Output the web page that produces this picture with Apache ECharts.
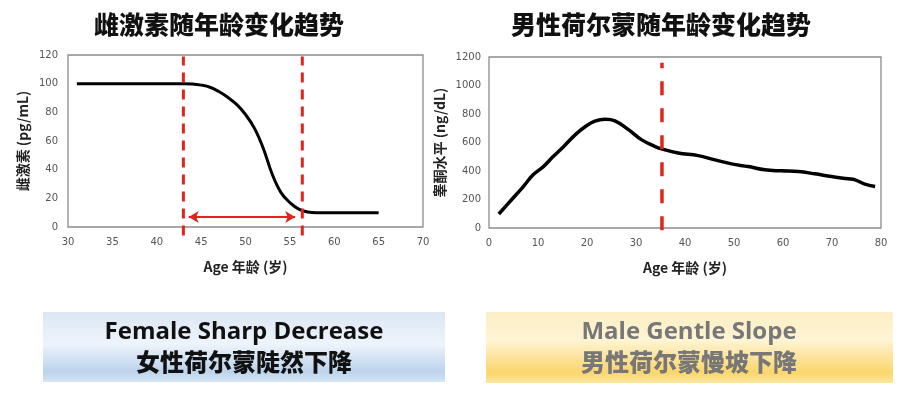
<!DOCTYPE html>
<html>
<head>
<meta charset="utf-8">
<style>
  html, body { margin: 0; padding: 0; background: #fff; }
  #main { width: 909px; height: 397px; }
</style>
<script src="https://cdn.jsdelivr.net/npm/echarts@6/dist/echarts.min.js"></script>
</head>
<body>
<div id="main"></div>
<script>
// 雌激素曲线
var femaleAge = [31, 35, 40, 43, 44, 45, 46, 47, 48, 49, 50, 51, 52, 53, 54, 55, 56, 57, 58, 60, 65];
var femaleVal = [100, 100, 100, 100, 99.8, 99, 97.5, 94.5, 90.5, 85.5, 78.5, 69, 55, 37, 24, 17, 12.5, 10.5, 10, 10, 10];
var femaleMarks = [43, 56.4];
var femaleArrow = [43.6, 55.6, 7];

// 睾酮曲线
var maleAge = [2, 4.6, 7, 9, 11.1, 13.1, 15.2, 17.9, 19.9, 21.6, 23.7, 25.7, 28.4, 31.1, 33.8, 35.2, 38.6, 42.7, 46.1, 49.5, 52.9, 56.3, 59.7, 63.1, 66.5, 69.9, 73.3, 74.7, 76.7, 78.8];
var maleVal = [98, 198, 291, 373, 431, 501, 571, 664, 718, 750, 763, 752, 692, 620, 573, 555, 526, 508, 478, 450, 431, 408, 401, 396, 380, 361, 345, 338, 308, 291];
var maleMark = 35.3;

function zip(a, b) {
  var out = [];
  for (var i = 0; i < a.length; i++) out.push([a[i], b[i]]);
  return out;
}

var myChart = echarts.init(document.getElementById("main"));

var labelStyle = { color: "#555", fontSize: 10, fontFamily: "DejaVu Sans" };
var nameStyle = { color: "#222", fontSize: 14, fontWeight: "bold", fontFamily: "Noto Sans CJK SC" };
var plain = function (v) { return String(v); };

function boxGradient(stops) {
  return new echarts.graphic.LinearGradient(0, 0, 0, 1, stops);
}

var option = {
  backgroundColor: "#fff",
  animation: false,
  title: [
    {
      text: "雌激素随年龄变化趋势",
      left: 214, top: 7, textAlign: "center",
      textStyle: { fontSize: 25, fontWeight: 900, color: "#111", fontFamily: "Noto Sans CJK SC" }
    },
    {
      text: "男性荷尔蒙随年龄变化趋势",
      left: 656, top: 7, textAlign: "center",
      textStyle: { fontSize: 25, fontWeight: 900, color: "#111", fontFamily: "Noto Sans CJK SC" }
    }
  ],
  grid: [
    { left: 68, top: 55, width: 355, height: 172, show: true, borderColor: "#8c8c8c", borderWidth: 1.3 },
    { left: 489, top: 57, width: 392, height: 171, show: true, borderColor: "#8c8c8c", borderWidth: 1.3 }
  ],
  xAxis: [
    {
      gridIndex: 0, type: "value", min: 30, max: 70, interval: 5,
      name: "Age 年龄 (岁)", nameLocation: "middle", nameGap: 33, nameTextStyle: nameStyle,
      axisLine: { show: false }, axisTick: { show: false }, splitLine: { show: false },
      axisLabel: Object.assign({ margin: 10, formatter: plain }, labelStyle)
    },
    {
      gridIndex: 1, type: "value", min: 0, max: 80, interval: 10,
      name: "Age 年龄 (岁)", nameLocation: "middle", nameGap: 33, nameTextStyle: nameStyle,
      axisLine: { show: false }, axisTick: { show: false }, splitLine: { show: false },
      axisLabel: Object.assign({ margin: 10, formatter: plain }, labelStyle)
    }
  ],
  yAxis: [
    {
      gridIndex: 0, type: "value", min: 0, max: 120, interval: 20,
      name: "雌激素 (pg/mL)", nameLocation: "middle", nameGap: 38, nameTextStyle: nameStyle,
      axisLine: { show: false }, axisTick: { show: false }, splitLine: { show: false },
      axisLabel: Object.assign({ margin: 10, formatter: plain }, labelStyle)
    },
    {
      gridIndex: 1, type: "value", min: 0, max: 1200, interval: 200,
      name: "睾酮水平 (ng/dL)", nameLocation: "middle", nameGap: 42, nameTextStyle: nameStyle,
      axisLine: { show: false }, axisTick: { show: false }, splitLine: { show: false },
      axisLabel: Object.assign({ margin: 8, formatter: plain }, labelStyle)
    }
  ],
  series: [
    {
      type: "line", xAxisIndex: 0, yAxisIndex: 0,
      data: zip(femaleAge, femaleVal), smooth: 0.4, symbol: "none",
      lineStyle: { color: "#000", width: 3 },
      markLine: {
        silent: true, symbol: ["arrow", "arrow"], symbolSize: [9, 10],
        label: { show: false },
        lineStyle: { color: "#e0251f", width: 2, type: "solid" },
        data: [[{ coord: [femaleArrow[0], femaleArrow[2]] }, { coord: [femaleArrow[1], femaleArrow[2]] }]]
      }
    },
    {
      type: "line", xAxisIndex: 0, yAxisIndex: 0, clip: false, symbol: "none",
      data: [[femaleMarks[0], -6], [femaleMarks[0], 119]],
      lineStyle: { color: "#e0251f", width: 3, type: [10, 7] }
    },
    {
      type: "line", xAxisIndex: 0, yAxisIndex: 0, clip: false, symbol: "none",
      data: [[femaleMarks[1], -6], [femaleMarks[1], 119]],
      lineStyle: { color: "#e0251f", width: 3, type: [10, 7] }
    },
    {
      type: "line", xAxisIndex: 1, yAxisIndex: 1,
      data: zip(maleAge, maleVal), smooth: 0.4, symbol: "none",
      lineStyle: { color: "#000", width: 3.5 }
    },
    {
      type: "line", xAxisIndex: 1, yAxisIndex: 1, clip: false, symbol: "none",
      data: [[maleMark, -15], [maleMark, 1160]],
      lineStyle: { color: "#e0251f", width: 3.5, type: [14, 13] }
    }
  ],
  graphic: [
    {
      type: "rect", shape: { x: 43, y: 312, width: 402, height: 70 },
      style: { fill: boxGradient([
        { offset: 0, color: "#dbe6f3" },
        { offset: 0.45, color: "#eef4fb" },
        { offset: 0.85, color: "#bcd3ed" },
        { offset: 1, color: "#d6e5f5" }
      ]) }
    },
    {
      type: "text", x: 244, y: 332,
      style: { text: "Female Sharp Decrease", fill: "#111", font: "bold 24px 'Open Sans'", textAlign: "center", textVerticalAlign: "middle" }
    },
    {
      type: "text", x: 244, y: 362,
      style: { text: "女性荷尔蒙陡然下降", fill: "#111", font: "900 24px 'Noto Sans CJK SC'", textAlign: "center", textVerticalAlign: "middle" }
    },
    {
      type: "rect", shape: { x: 486, y: 312, width: 407, height: 71 },
      style: { fill: boxGradient([
        { offset: 0, color: "#fcefc6" },
        { offset: 0.4, color: "#fff4d3" },
        { offset: 0.85, color: "#fbd66c" },
        { offset: 1, color: "#fde5a0" }
      ]) }
    },
    {
      type: "text", x: 689, y: 332,
      style: { text: "Male Gentle Slope", fill: "#777", font: "bold 24px 'Open Sans'", textAlign: "center", textVerticalAlign: "middle" }
    },
    {
      type: "text", x: 689, y: 362,
      style: { text: "男性荷尔蒙慢坡下降", fill: "#777", font: "900 24px 'Noto Sans CJK SC'", textAlign: "center", textVerticalAlign: "middle" }
    }
  ]
};

myChart.setOption(option);
</script>
</body>
</html>
